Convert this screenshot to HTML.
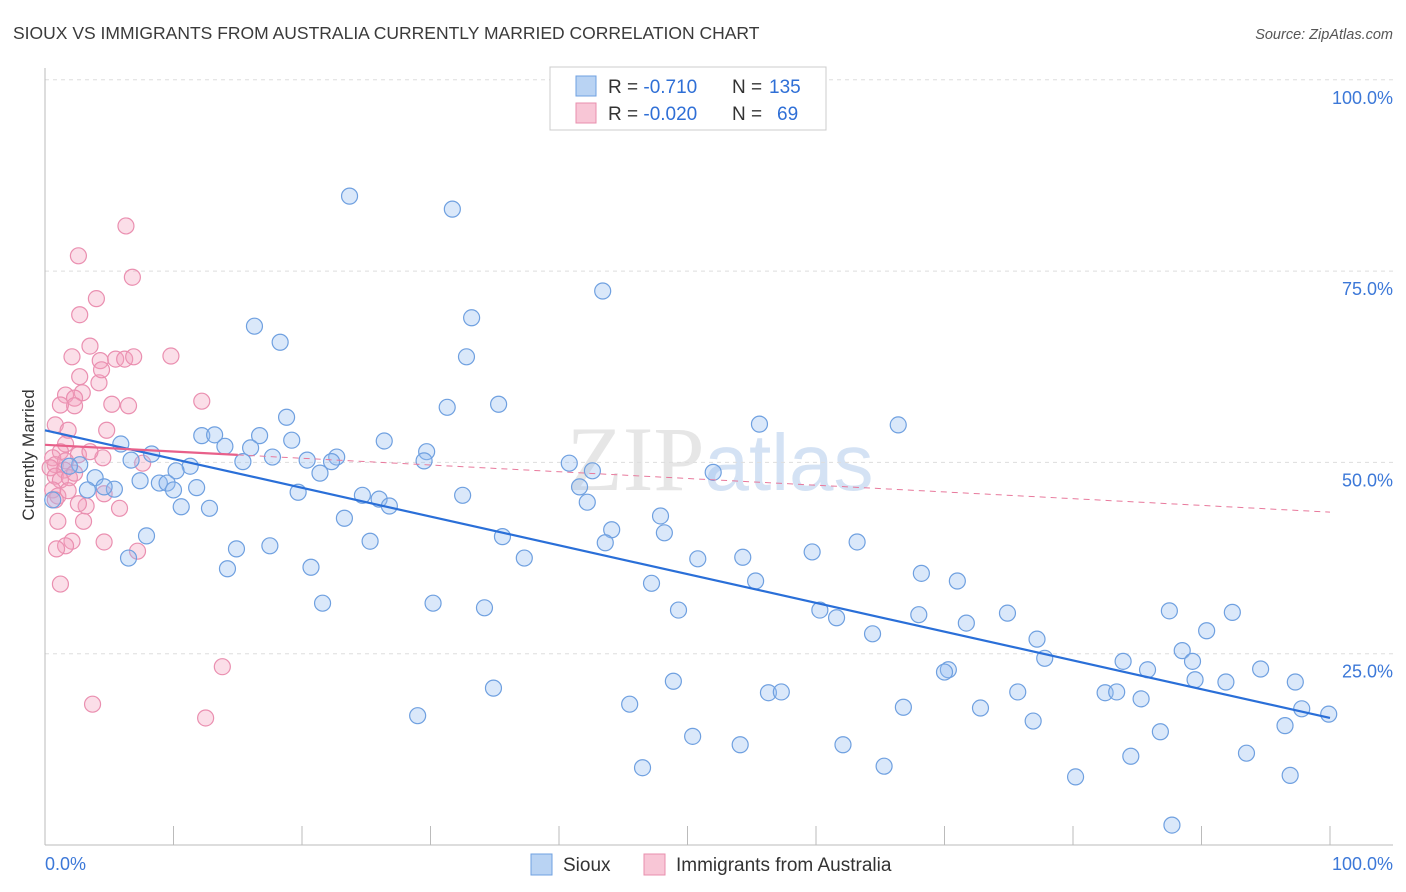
<!DOCTYPE html>
<html><head><meta charset="utf-8">
<style>
body{margin:0;background:#fff;font-family:"Liberation Sans",sans-serif;}
#wrap{position:relative;width:1406px;height:892px;overflow:hidden;}
</style></head>
<body>
<div id="wrap">
<svg id="svg" width="1406" height="892">
<text x="13" y="39" font-size="17.5" fill="#3a3a3a">SIOUX VS IMMIGRANTS FROM AUSTRALIA CURRENTLY MARRIED CORRELATION CHART</text>
<text x="1393" y="39" font-size="14.5" fill="#555" font-style="italic" text-anchor="end">Source: ZipAtlas.com</text>
<text x="720" y="490" font-size="92" fill="#e6e6e6" text-anchor="middle" font-family="Liberation Serif, serif">ZIP<tspan fill="#d4e2f4" font-family="Liberation Sans, sans-serif" font-size="80">atlas</tspan></text>
<g id="grid"></g>
<g id="axes"></g>
<g id="marks"></g>
<text transform="translate(34,455) rotate(-90)" font-size="17" fill="#333" text-anchor="middle">Currently Married</text>
<g>
<rect x="550" y="67" width="276" height="63" fill="#fff" stroke="#ccc"/>
<rect x="576" y="76" width="20" height="20" fill="#b9d3f3" stroke="#6fa0e0"/>
<rect x="576" y="103" width="20" height="20" fill="#f8c6d6" stroke="#e88fad"/>
<text x="608" y="93" font-size="19" fill="#333">R = <tspan fill="#2f6fd6">-0.710</tspan><tspan x="732">N = </tspan><tspan fill="#2f6fd6" x="769">135</tspan></text>
<text x="608" y="120" font-size="19" fill="#333">R = <tspan fill="#2f6fd6">-0.020</tspan><tspan x="732">N = </tspan><tspan fill="#2f6fd6" x="777">69</tspan></text>
</g>
<g>
<rect x="531" y="854" width="21" height="21" fill="#b9d3f3" stroke="#6fa0e0"/>
<text x="563" y="871" font-size="19" fill="#333">Sioux</text>
<rect x="644" y="854" width="21" height="21" fill="#f8c6d6" stroke="#e88fad"/>
<text x="676" y="871" font-size="19" fill="#333">Immigrants from Australia</text>
</g>
</svg>
</div>
<script>
const yTicks=[100,75,50,25];
const yTickLabels=["100.0%","75.0%","50.0%","25.0%"];
const xTickLabels=["0.0%","100.0%"];
const siouxX=[23.7,31.7,43.4,16.3,18.3,33.2,32.8,31.3,35.3,18.8,66.4,55.6,5.9,8.3,12.2,13.2,14.0,16.7,19.2,26.4,29.7,16.0,17.7,20.4,22.7,22.3,15.4,6.7,11.3,10.2,21.4,29.5,40.8,42.6,52.0,2.7,1.9,3.9,7.4,8.9,9.5,10.0,11.8,5.4,3.3,4.6,19.7,24.7,26.0,26.8,32.5,41.6,42.2,10.6,12.8,23.3,47.9,44.1,48.2,25.3,35.6,43.6,14.9,17.5,7.9,6.5,14.2,20.7,37.3,50.8,54.3,59.7,63.2,68.2,71.0,55.3,47.2,21.6,30.2,34.2,49.3,60.3,61.6,68.0,74.9,87.5,92.4,64.4,71.7,77.2,90.4,88.5,89.3,77.8,83.9,85.8,94.6,70.3,70.0,48.9,34.9,56.3,57.3,75.7,82.5,83.4,89.5,91.9,97.3,85.3,45.5,66.8,72.8,29.0,97.8,99.9,76.9,96.5,86.8,50.4,54.1,62.1,93.5,84.5,46.5,65.3,80.2,96.9,87.7,0.6];
const siouxY=[84.8,83.1,72.4,67.8,65.7,68.9,63.8,57.2,57.6,55.9,54.9,55.0,52.4,51.1,53.5,53.6,52.1,53.5,52.9,52.8,51.4,51.9,50.7,50.3,50.7,50.1,50.1,50.3,49.5,48.9,48.6,50.2,49.9,48.9,48.7,49.7,49.5,48.0,47.6,47.3,47.3,46.4,46.7,46.5,46.4,46.8,46.1,45.7,45.2,44.3,45.7,46.8,44.8,44.2,44.0,42.7,43.0,41.2,40.8,39.7,40.3,39.5,38.7,39.1,40.4,37.5,36.1,36.3,37.5,37.4,37.6,38.3,39.6,35.5,34.5,34.5,34.2,31.6,31.6,31.0,30.7,30.7,29.7,30.1,30.3,30.6,30.4,27.6,29.0,26.9,28.0,25.4,24.0,24.4,24.0,22.9,23.0,22.9,22.6,21.4,20.5,19.9,20.0,20.0,19.9,20.0,21.6,21.3,21.3,19.1,18.4,18.0,17.9,16.9,17.8,17.1,16.2,15.6,14.8,14.2,13.1,13.1,12.0,11.6,10.1,10.3,8.9,9.1,2.6,45.1];
const ausX=[6.3,2.6,6.8,4.0,2.7,3.5,2.1,4.3,5.5,6.2,6.9,9.8,2.7,4.2,4.4,2.9,1.6,2.3,2.3,1.2,5.2,6.5,12.2,0.8,1.8,4.8,1.6,1.2,2.6,0.6,1.6,0.8,1.5,0.4,0.8,1.2,1.9,2.3,0.6,1.0,1.8,0.8,4.6,3.2,5.8,2.6,1.0,3.0,2.1,4.6,1.6,0.9,7.2,1.2,13.8,3.7,12.5,7.6,4.5,3.5];
const ausY=[80.9,77.0,74.2,71.4,69.3,65.2,63.8,63.3,63.5,63.5,63.8,63.9,61.2,60.4,62.1,59.1,58.8,58.4,57.4,57.5,57.6,57.4,58.0,54.9,54.2,54.2,52.4,51.4,51.0,50.6,50.2,49.7,49.0,49.3,48.2,47.7,48.0,48.6,46.4,45.6,46.3,45.1,45.9,44.3,44.0,44.6,42.3,42.3,39.7,39.6,39.1,38.7,38.4,34.1,23.3,18.4,16.6,49.9,50.6,51.4];
const siouxTrend=[54.2,16.6];
const ausTrend=[52.3,43.5];
const X=v=>45+v*12.85, Y=v=>845-v*7.652;
const NS='http://www.w3.org/2000/svg';
function mk(tag,attrs,parent){const e=document.createElementNS(NS,tag);for(const k in attrs)e.setAttribute(k,attrs[k]);parent.appendChild(e);return e;}
const grid=document.getElementById('grid'),axes=document.getElementById('axes'),marks=document.getElementById('marks');
yTicks.forEach((t,i)=>{
  const l=mk('line',{x1:45,x2:1393,y1:Y(t),y2:Y(t),stroke:'#ddd','stroke-dasharray':'4,4'},grid);
  
  
  const tx=mk('text',{x:1393,y:Y(t)+24,'font-size':18,fill:'#3c78d8','text-anchor':'end'},axes);
  tx.textContent=yTickLabels[i];
  
  
});
const ya=mk('line',{x1:45,x2:45,y1:68,y2:845,stroke:'#bbb'},axes);


const xa=mk('line',{x1:45,x2:1393,y1:845,y2:845,stroke:'#bbb'},axes);


for(let i=0;i<=10;i++){
  const tk=mk('line',{x1:X(i*10),x2:X(i*10),y1:826,y2:845,stroke:'#bbb'},axes);
  
  
}
const xl0=mk('text',{x:45,y:870,'font-size':18,fill:'#3c78d8'},axes);
xl0.textContent=xTickLabels[0];


const xl1=mk('text',{x:1393,y:870,'font-size':18,fill:'#3c78d8','text-anchor':'end'},axes);
xl1.textContent=xTickLabels[1];


ausX.forEach((x,i)=>{
  const c=mk('circle',{cx:X(x),cy:Y(ausY[i]),r:8,fill:'rgba(244,160,190,0.35)',stroke:'#ea8fb0','stroke-width':1.2},marks);
  
  
});
siouxX.forEach((x,i)=>{
  const c=mk('circle',{cx:X(x),cy:Y(siouxY[i]),r:8,fill:'rgba(150,190,240,0.35)',stroke:'#6fa0e0','stroke-width':1.2},marks);
  
  
});
const bl=mk('line',{x1:X(0),y1:Y(siouxTrend[0]),x2:X(100),y2:Y(siouxTrend[1]),stroke:'#2a6fd8','stroke-width':2.2},marks);


const pAt=x=>ausTrend[0]+(ausTrend[1]-ausTrend[0])*x/100;
const pd=mk('line',{x1:X(15),y1:Y(pAt(15)),x2:X(100),y2:Y(pAt(100)),stroke:'#e8799c','stroke-width':1,'stroke-dasharray':'6,5'},marks);


const ps=mk('line',{x1:X(0),y1:Y(pAt(0)),x2:X(15),y2:Y(pAt(15)),stroke:'#e8608a','stroke-width':2.2},marks);


</script>
</body></html>
